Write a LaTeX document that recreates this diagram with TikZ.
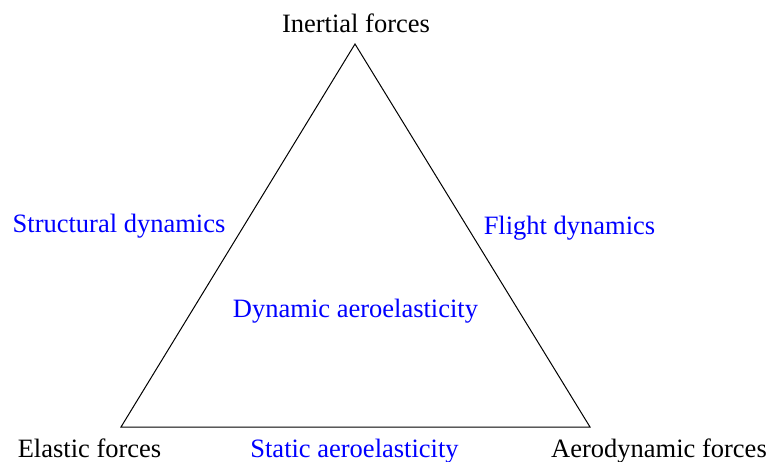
\documentclass[tikz,border=0pt]{standalone}
\usepackage{fontspec}
\setmainfont{Liberation Serif}
\begin{document}
\begin{tikzpicture}[x=1pt,y=-1pt,
  lbl/.style={inner sep=0pt,anchor=base,font=\fontsize{26.5}{30}\selectfont},
  blu/.style={lbl,text={rgb,255:red,0;green,0;blue,255}}]
\useasboundingbox (0,0) rectangle (767,462);
\coordinate (T) at (355,44);
\coordinate (L) at (121,427);
\coordinate (R) at (590,427);
\draw[line width=1pt,line join=miter] (T) -- (L) -- (R) -- cycle;
\node[lbl] (inertial) at (356,33) {Inertial forces};
\node[lbl] (elastic) at (89.5,457) {Elastic forces};
\node[lbl] (aero) at (659,457) {Aerodynamic forces};
\node[blu] (struct) at (119,233) {Structural dynamics};
\node[blu] (flight) at (569.5,234) {Flight dynamics};
\node[blu] (dyn) at (355.5,317) {Dynamic aeroelasticity};
\node[blu] (stat) at (354.5,457) {Static aeroelasticity};
\end{tikzpicture}
\end{document}
